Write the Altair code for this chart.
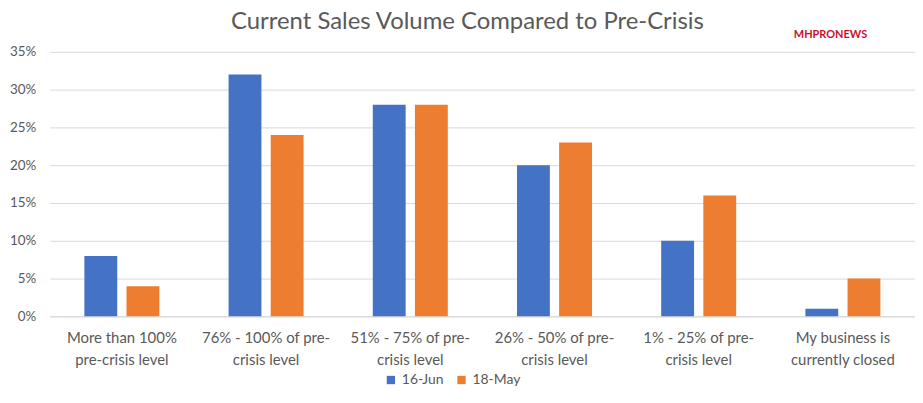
import altair as alt
import pandas as pd

categories = ["More than 100%\npre-crisis level", "76% - 100% of pre-\ncrisis level",
              "51% - 75% of pre-\ncrisis level", "26% - 50% of pre-\ncrisis level",
              "1% - 25% of pre-\ncrisis level", "My business is\ncurrently closed"]
series = ["16-Jun", "18-May"]
jun16 = [0.08, 0.32, 0.28, 0.20, 0.10, 0.01]
may18 = [0.04, 0.24, 0.28, 0.23, 0.16, 0.05]
y_ticks = [0, 0.05, 0.10, 0.15, 0.20, 0.25, 0.30, 0.35]
title_text = "Current Sales Volume Compared to Pre-Crisis"
logo_text = "MHPRONEWS"

rows = []
for c, a, b in zip(categories, jun16, may18):
    rows.append({"cat": c, "series": series[0], "value": a})
    rows.append({"cat": c, "series": series[1], "value": b})
df = pd.DataFrame(rows)

FONT = "Lato"
GRAY = "#595959"

bars = alt.Chart(df).mark_bar().encode(
    x=alt.X("cat:N", sort=categories, title=None,
            scale=alt.Scale(paddingInner=0.48, paddingOuter=0.24),
            axis=alt.Axis(labelAngle=0, labelExpr="split(datum.label, '\\n')",
                          labelFontSize=15, labelColor=GRAY, labelFont=FONT,
                          labelLineHeight=22, labelPadding=14, ticks=False,
                          domainColor="#d9d9d9", labelLimit=200)),
    xOffset=alt.XOffset("series:N", sort=series, scale=alt.Scale(paddingInner=0.22)),
    y=alt.Y("value:Q", title=None,
            scale=alt.Scale(domain=[0, 0.35], nice=False),
            axis=alt.Axis(values=y_ticks, format=".0%", labelFontSize=13.5,
                          labelColor=GRAY, labelFont=FONT, ticks=False, domain=False,
                          gridColor="#d9d9d9", labelPadding=14)),
    color=alt.Color("series:N", sort=series,
                    scale=alt.Scale(domain=series, range=["#4472C4", "#ED7D31"]),
                    legend=alt.Legend(title=None, orient="none", direction="horizontal",
                                      legendX=336, legendY=323, symbolType="square",
                                      symbolSize=70, labelFontSize=14, labelColor=GRAY,
                                      labelFont=FONT, columnPadding=10, labelOffset=4)),
)

title = alt.Chart(pd.DataFrame({"t": [title_text]})).mark_text(
    font=FONT, fontSize=24, color=GRAY, align="center", baseline="alphabetic"
).encode(x=alt.value(420), y=alt.value(-23), text="t:N")

logo = alt.Chart(pd.DataFrame({"t": [logo_text]})).mark_text(
    font=FONT, fontSize=11, fontWeight="bold", color="#c8102e", align="center"
).encode(x=alt.value(785), y=alt.value(-17), text="t:N")

chart = alt.layer(bars, title, logo).properties(
    width=870, height=266,
    autosize=alt.AutoSizeParams(type="none"),
    padding={"left": 42, "top": 43, "right": 0, "bottom": 78},
).configure_view(stroke=None)

chart.save("out.html", embed_options={"renderer": "svg", "actions": False})
